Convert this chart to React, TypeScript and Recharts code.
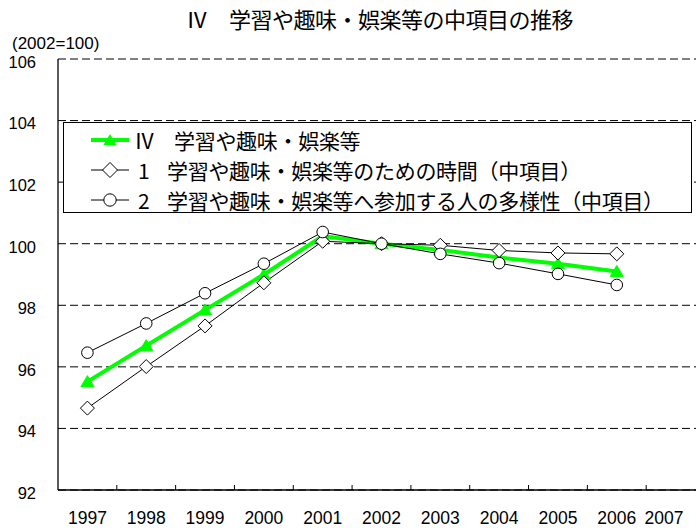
import React from 'react';
import { LineChart, Line, XAxis, YAxis, CartesianGrid, Legend } from 'recharts';

// ---- data ----
const years = [1997, 1998, 1999, 2000, 2001, 2002, 2003, 2004, 2005, 2006];
const axisYears = [1997, 1998, 1999, 2000, 2001, 2002, 2003, 2004, 2005, 2006, 2007];
const yTicks = [92, 94, 96, 98, 100, 102, 104, 106];
const seriesIV = [95.52, 96.69, 97.85, 99.0, 100.25, 100.0, 99.8, 99.55, 99.35, 99.1];
const series1 = [94.66, 96.01, 97.33, 98.73, 100.08, 100.0, 99.95, 99.78, 99.7, 99.67];
const series2 = [96.46, 97.41, 98.39, 99.35, 100.38, 100.0, 99.67, 99.37, 99.02, 98.66];

const titleText = 'Ⅳ　学習や趣味・娯楽等の中項目の推移';
const unitText = '(2002=100)';
const legendPrefixes = ['Ⅳ', '1', '2'];
const legendTexts = [
  '学習や趣味・娯楽等',
  '学習や趣味・娯楽等のための時間（中項目）',
  '学習や趣味・娯楽等へ参加する人の多様性（中項目）',
];

const data = years.map((y, i) => ({ year: y, iv: seriesIV[i], s1: series1[i], s2: series2[i] }));

// ---- layout constants ----
const VIEW_W = 696;
const CHART_W = 705;
const CHART_H = 528;
const Y_AXIS_W = 58;
const X_AXIS_H = 38;
const TOP = 59;
const X_MIN = 1996.5;
const X_MAX = 2007.5;
const HALF_BAND = ((CHART_W - Y_AXIS_W) / (X_MAX - X_MIN)) / 2;
const LABEL_HALF_W = 20;
const LABEL_RIGHT_LIMIT = VIEW_W - 12;

const GREEN = '#00ff00';
const LATIN = '"Liberation Sans", Arial, sans-serif';
const CJK = '"Noto Sans CJK JP", "Liberation Sans", sans-serif';

const XTick = (props: any) => {
  const { x, y, payload } = props;
  const lx = Math.min(x, LABEL_RIGHT_LIMIT - LABEL_HALF_W);
  return (
    <g>
      {payload.value < 2007 && (
        <line x1={x + HALF_BAND} x2={x + HALF_BAND} y1={y} y2={y - 5} stroke="#000" strokeWidth={1} />
      )}
      <text x={lx} y={y + 28} dy="0.355em" textAnchor="middle" fontSize={17.5} fontFamily={LATIN} fill="#000">
        {payload.value}
      </text>
    </g>
  );
};

const YTick = (props: any) => {
  const { x, y, payload } = props;
  return (
    <text x={x} y={y + 3} dy="0.355em" textAnchor="end" fontSize={16.5} fontFamily={LATIN} fill="#000">
      {payload.value}
    </text>
  );
};

const triangleDot = (props: any) => {
  const { cx, cy, index } = props;
  if (cx == null || cy == null) return <g key={`t${index}`} />;
  return (
    <polygon
      key={`t${index}`}
      points={`${cx},${cy - 6} ${cx - 6.5},${cy + 5} ${cx + 6.5},${cy + 5}`}
      fill={GREEN}
      stroke={GREEN}
      strokeWidth={1}
    />
  );
};

const diamondDot = (props: any) => {
  const { cx, cy, index } = props;
  if (cx == null || cy == null) return <g key={`d${index}`} />;
  return (
    <polygon
      key={`d${index}`}
      points={`${cx},${cy - 7} ${cx + 7},${cy} ${cx},${cy + 7} ${cx - 7},${cy}`}
      fill="#fff"
      stroke="#000"
      strokeWidth={1}
    />
  );
};

const circleDot = (props: any) => {
  const { cx, cy, index } = props;
  if (cx == null || cy == null) return <g key={`c${index}`} />;
  return <circle key={`c${index}`} cx={cx} cy={cy} r={5.8} fill="#fff" stroke="#000" strokeWidth={1} />;
};

const LegendIcon = ({ kind }: { kind: number }) => (
  <svg width={70} height={30} style={{ display: 'block', flex: '0 0 auto' }}>
    {kind === 0 ? (
      <g>
        <line x1={27} x2={65} y1={15} y2={15} stroke={GREEN} strokeWidth={4} />
        <polygon points="46,9 39.5,20 52.5,20" fill={GREEN} />
      </g>
    ) : kind === 1 ? (
      <g>
        <line x1={27} x2={65} y1={15} y2={15} stroke="#000" strokeWidth={1} />
        <polygon points="46,7.5 53.5,15 46,22.5 38.5,15" fill="#fff" stroke="#000" strokeWidth={1} />
      </g>
    ) : (
      <g>
        <line x1={27} x2={65} y1={15} y2={15} stroke="#000" strokeWidth={1} />
        <circle cx={46} cy={15} r={6.2} fill="#fff" stroke="#000" strokeWidth={1} />
      </g>
    )}
  </svg>
);

const LegendBox = () => (
  <div
    style={{
      width: 629,
      height: 91,
      boxSizing: 'border-box',
      border: '1px solid #000',
      background: '#fff',
      paddingTop: 2,
    }}
  >
    {legendTexts.map((t, i) => (
      <div key={i} style={{ display: 'flex', alignItems: 'center', height: 30 }}>
        <LegendIcon kind={i} />
        <span
          style={{
            display: 'inline-block',
            width: i === 0 ? 40 : 33,
            paddingLeft: i === 0 ? 0 : 4,
            boxSizing: 'border-box',
            fontFamily: CJK,
            fontSize: 21,
            lineHeight: '30px',
            color: '#000',
            whiteSpace: 'nowrap',
          }}
        >
          {legendPrefixes[i]}
        </span>
        <span
          style={{
            fontFamily: CJK,
            fontSize: 21,
            letterSpacing: -0.3,
            lineHeight: '30px',
            color: '#000',
            whiteSpace: 'nowrap',
          }}
        >
          {t}
        </span>
      </div>
    ))}
  </div>
);

export default function App() {
  return (
    <div
      style={{
        position: 'absolute',
        left: 0,
        top: 0,
        width: VIEW_W,
        height: 528,
        overflow: 'hidden',
        background: '#fff',
      }}
    >
      <div
        style={{
          position: 'absolute',
          left: 186,
          top: 7,
          fontFamily: CJK,
          fontSize: 22,
          letterSpacing: -0.5,
          lineHeight: '22px',
          whiteSpace: 'nowrap',
          color: '#000',
        }}
      >
        {titleText}
      </div>
      <div
        style={{
          position: 'absolute',
          left: 12,
          top: 35,
          fontFamily: LATIN,
          fontSize: 17,
          lineHeight: '17px',
          whiteSpace: 'nowrap',
          color: '#000',
        }}
      >
        {unitText}
      </div>
      <LineChart
        width={CHART_W}
        height={CHART_H}
        data={data}
        margin={{ top: TOP, right: 0, bottom: 0, left: 0 }}
      >
        <CartesianGrid vertical={false} stroke="#000" strokeDasharray="8 4" strokeWidth={1} />
        <XAxis
          dataKey="year"
          type="number"
          domain={[X_MIN, X_MAX]}
          ticks={axisYears}
          interval={0}
          height={X_AXIS_H}
          tickLine={false}
          tickSize={0}
          tickMargin={0}
          axisLine={{ stroke: '#000', strokeWidth: 1.3 }}
          tick={<XTick />}
        />
        <YAxis
          type="number"
          domain={[92, 106]}
          ticks={yTicks}
          interval={0}
          width={Y_AXIS_W}
          tickLine={false}
          tickSize={0}
          tickMargin={22}
          axisLine={{ stroke: '#000', strokeWidth: 1.3 }}
          tick={<YTick />}
        />
        <Legend
          layout="vertical"
          verticalAlign="middle"
          align="center"
          content={() => <LegendBox />}
          wrapperStyle={{ left: 63, top: 122, width: 629, height: 91 }}
        />
        <Line
          dataKey="iv"
          stroke={GREEN}
          strokeWidth={4}
          dot={triangleDot}
          activeDot={false}
          isAnimationActive={false}
        />
        <Line
          dataKey="s1"
          stroke="#000"
          strokeWidth={1}
          dot={diamondDot}
          activeDot={false}
          isAnimationActive={false}
        />
        <Line
          dataKey="s2"
          stroke="#000"
          strokeWidth={1}
          dot={circleDot}
          activeDot={false}
          isAnimationActive={false}
        />
      </LineChart>
    </div>
  );
}
